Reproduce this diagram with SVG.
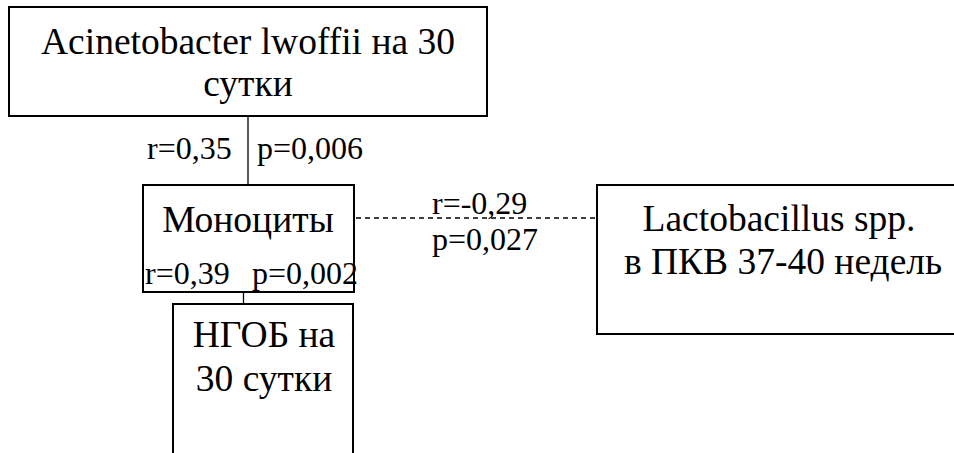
<svg xmlns="http://www.w3.org/2000/svg" width="954" height="453" viewBox="0 0 954 453">
<style>
.box{fill:#fff;stroke:#000;stroke-width:2}
.t{font-family:'Liberation Serif', 'Times New Roman', serif;fill:#000}
.n{font-size:37.5px}
.l{font-size:32px}
.c{stroke:#000;stroke-width:1.3;fill:none}
.d{stroke-dasharray:5,4}
</style>
<rect width="954" height="453" fill="#fff"/>
<g id="connectors">
<line class="c" x1="248" y1="116" x2="248" y2="185"/>
<line class="c" x1="243.5" y1="254" x2="243.5" y2="304"/>
<line class="c d" x1="356" y1="218" x2="597" y2="218"/>
</g>
<g id="node-acinetobacter">
<rect class="box" x="9" y="7" width="478" height="109"/>
<text class="t n" x="248" y="54" text-anchor="middle">Acinetobacter lwoffii на 30</text>
<text class="t n" x="248" y="96" text-anchor="middle">сутки</text>
</g>
<g id="node-monocytes">
<rect class="box" x="143" y="185" width="211" height="107"/>
<text class="t n" x="248" y="232" text-anchor="middle">Моноциты</text>
</g>
<g id="node-ngob">
<path class="box" d="M173,460 V304 H353 V460"/>
<text class="t n" x="264" y="347" text-anchor="middle">НГОБ на</text>
<text class="t n" x="264" y="391" text-anchor="middle">30 сутки</text>
</g>
<g id="node-lactobacillus">
<path class="box" d="M970,185 H597 V334 H970"/>
<text class="t n" x="779" y="231" text-anchor="middle">Lactobacillus spp.</text>
<text class="t n" x="783" y="274" text-anchor="middle">в ПКВ 37-40 недель</text>
</g>
<g id="labels">
<text class="t l" x="147" y="159">r=0,35</text>
<text class="t l" x="257" y="159">p=0,006</text>
<text class="t l" x="145" y="284">r=0,39</text>
<text class="t l" x="252" y="284">p=0,002</text>
<text class="t l" x="432" y="214">r=-0,29</text>
<text class="t l" x="432" y="250">p=0,027</text>
</g>
</svg>
